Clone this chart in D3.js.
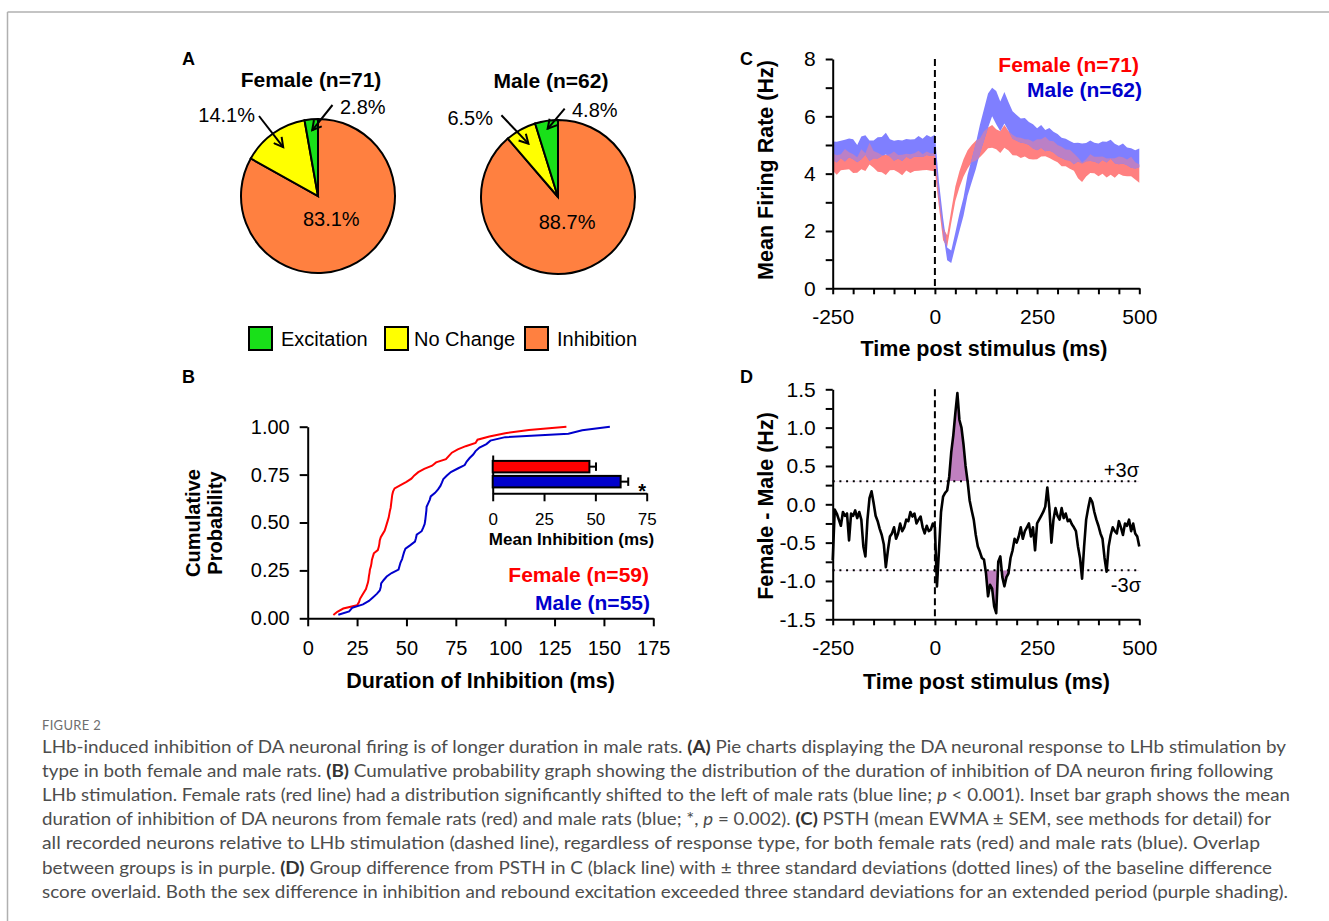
<!DOCTYPE html>
<html>
<head>
<meta charset="utf-8">
<script src="https://cdn.jsdelivr.net/npm/d3@7"></script>
<style>
  body { margin: 0; background: #fff; }
  svg { display: block; }
</style>
</head>
<body>
<div id="fig"></div>
<script>
// ---------- data ----------
// A: response type percentages (order: Excitation, No Change, Inhibition)
const pieCategories = ["Excitation", "No Change", "Inhibition"];
const femalePie = [2.8, 14.1, 83.1];
const malePie = [4.8, 6.5, 88.7];

// B: durations of inhibition (ms), sorted
const femaleDur = [13, 15, 18, 25, 26, 26.5, 27.5, 28.5, 29.5, 30,
  30.5, 30.8, 31, 31.3, 31.5, 32, 32.3, 32.5, 33, 33.5,
  35.5, 36, 36.3, 36.5, 37, 38, 39, 39.5, 40, 40.5,
  41, 41.3, 41.6, 42, 42.2, 42.4, 42.6, 42.8, 43.2, 44,
  47, 50, 52.5, 54, 56, 59, 63, 65, 70, 71.5,
  73, 76, 80, 85, 86, 92, 100, 112, 131];
const maleDur = [15.5, 21, 22.5, 28, 31, 33, 35, 36.5, 37, 37.2,
  38.5, 40, 42.5, 46, 46.5, 47, 47.8, 48.3, 48.8, 49.5,
  52, 54.3, 54.8, 55.2, 57.7, 58.5, 59.2, 59.5, 59.7, 59.9,
  60.1, 60.2, 61, 61.8, 62.3, 64.5, 66, 67.2, 68, 68.7,
  70.5, 72.5, 76, 79.5, 80.5, 82, 83.8, 85, 87, 90.5,
  92.5, 100, 132, 139, 153];

// B inset: mean inhibition (ms)
const barGroups = ["Female", "Male"];
const barMeans = [47.1, 62.3];
const barSems = [3.2, 3.7];

// C: PSTH mean and SEM (Hz), -250..500 ms every 10 ms
const psthStart = -250, psthStep = 10;
const femaleMean = [4.4, 4.3, 4.4, 4.5, 4.45, 4.35, 4.3, 4.5, 4.4, 4.7,
  4.5, 4.4, 4.35, 4.3, 4.4, 4.45, 4.35, 4.3, 4.4, 4.35,
  4.4, 4.45, 4.4, 4.45, 4.4, 4.4, 3.1, 1.9, 1.65, 2.5,
  3.3, 3.8, 4.2, 4.5, 4.7, 4.8, 4.9, 5.1, 5.25, 5.3,
  5.2, 5.1, 5.3, 5.15, 5.0, 4.95, 4.9, 4.9, 4.85, 4.8,
  4.85, 4.9, 4.95, 4.85, 4.8, 4.7, 4.6, 4.55, 4.5, 4.4,
  4.2, 4.05, 4.2, 4.35, 4.3, 4.25, 4.3, 4.2, 4.25, 4.2,
  4.3, 4.25, 4.2, 4.25, 4.1, 4.0];
const femaleSem = [0.30, 0.34, 0.28, 0.36, 0.30, 0.33, 0.27, 0.35, 0.31, 0.38,
  0.29, 0.33, 0.30, 0.35, 0.28, 0.32, 0.30, 0.36, 0.29, 0.33,
  0.31, 0.35, 0.28, 0.32, 0.30, 0.32,
  0.28, 0.22, 0.2, 0.22, 0.25, 0.28, 0.3, 0.32, 0.3, 0.35,
  0.33, 0.38, 0.36, 0.4, 0.35, 0.38, 0.4, 0.34, 0.36, 0.32,
  0.35, 0.3, 0.34, 0.31, 0.35, 0.3, 0.34, 0.3, 0.33, 0.3,
  0.34, 0.29, 0.33, 0.3, 0.36, 0.34, 0.3, 0.33, 0.29, 0.34,
  0.3, 0.33, 0.29, 0.34, 0.3, 0.32, 0.29, 0.34, 0.3, 0.32];
const maleMean = [4.8, 4.75, 4.85, 4.8, 4.9, 4.85, 4.7, 4.9, 5.0, 4.8,
  4.85, 4.9, 4.95, 5.05, 4.9, 4.8, 4.85, 4.8, 4.9, 4.85,
  4.9, 4.95, 4.9, 5.0, 4.95, 5.0, 3.4, 2.2, 1.2, 1.1,
  1.7, 2.3, 2.85, 3.6, 4.1, 4.6, 5.2, 5.7, 6.2, 6.5,
  6.3, 6.0, 6.3, 6.0, 5.7, 5.6, 5.5, 5.5, 5.4, 5.3,
  5.2, 5.3, 5.15, 5.2, 5.1, 5.0, 4.9, 4.85, 4.8, 4.7,
  4.75, 4.7, 4.75, 4.8, 4.75, 4.7, 4.8, 4.75, 4.85, 4.7,
  4.65, 4.7, 4.6, 4.55, 4.5, 4.55];
const maleSem = [0.32, 0.36, 0.3, 0.38, 0.33, 0.35, 0.3, 0.4, 0.34, 0.36,
  0.31, 0.37, 0.33, 0.38, 0.3, 0.35, 0.32, 0.36, 0.31, 0.34,
  0.3, 0.36, 0.32, 0.35, 0.33, 0.36,
  0.3, 0.25, 0.22, 0.22, 0.25, 0.3, 0.32, 0.36, 0.4, 0.45,
  0.5, 0.55, 0.6, 0.5, 0.58, 0.52, 0.55, 0.5, 0.48, 0.45,
  0.42, 0.44, 0.4, 0.42, 0.38, 0.4, 0.37, 0.39, 0.36, 0.38,
  0.35, 0.37, 0.34, 0.37, 0.33, 0.35, 0.32, 0.36, 0.33, 0.35,
  0.32, 0.36, 0.33, 0.34, 0.32, 0.35, 0.31, 0.34, 0.32, 0.33];

// D: female - male difference (Hz), -250..500 ms every 5 ms
const diffStart = -250, diffStep = 5;
const diffValues = [-0.73, -0.07, -0.12, -0.2, -0.28, -0.1, -0.15, -0.12, -0.47, -0.12,
  -0.15, -0.08, -0.18, -0.1, -0.2, -0.55, -0.68, -0.2, 0.08, 0.17,
  0.02, -0.15, -0.22, -0.32, -0.4, -0.52, -0.82, -0.6, -0.42, -0.38,
  -0.3, -0.45, -0.38, -0.25, -0.35, -0.3, -0.2, -0.22, -0.1, -0.16,
  -0.12, -0.25, -0.2, -0.16, -0.3, -0.38, -0.28, -0.35, -0.33, -0.25,
  -0.3, -1.07, -0.6, -0.1, 0.1, 0.15, 0.18, 0.36, 0.68, 0.9,
  1.19, 1.45, 1.1, 1.0, 0.78, 0.5, 0.3, 0.05, -0.08, -0.2,
  -0.4, -0.55, -0.62, -0.7, -0.72, -0.9, -1.2, -1.05, -1.1, -1.33,
  -1.42, -0.75, -0.68, -0.95, -1.07, -0.95, -0.9, -0.7, -0.6, -0.45,
  -0.5, -0.42, -0.3, -0.45, -0.35, -0.3, -0.25, -0.42, -0.3, -0.6,
  -0.25, -0.2, -0.15, -0.1, -0.03, 0.22, -0.05, -0.5, -0.2, -0.05,
  -0.15, -0.2, -0.05, -0.18, -0.12, -0.22, -0.2, -0.26, -0.3, -0.35,
  -0.55, -0.7, -0.97, -0.55, -0.2, -0.05, 0.08, 0.03, -0.1, -0.2,
  -0.28, -0.38, -0.45, -0.7, -0.88, -0.55, -0.4, -0.3, -0.35, -0.38,
  -0.22, -0.3, -0.4, -0.25, -0.28, -0.2, -0.35, -0.25, -0.38, -0.42,
  -0.55];
const sigmaUpper = 0.3;
const sigmaLower = -0.86;

// caption
const captionLines = [
  [["LHb-induced inhibition of DA neuronal firing is of longer duration in male rats. "], ["(A)", "b"], [" Pie charts displaying the DA neuronal response to LHb stimulation by"]],
  [["type in both female and male rats. "], ["(B)", "b"], [" Cumulative probability graph showing the distribution of the duration of inhibition of DA neuron firing following"]],
  [["LHb stimulation. Female rats (red line) had a distribution significantly shifted to the left of male rats (blue line; "], ["p", "i"], [" < 0.001). Inset bar graph shows the mean"]],
  [["duration of inhibition of DA neurons from female rats (red) and male rats (blue; *, "], ["p", "i"], [" = 0.002). "], ["(C)", "b"], [" PSTH (mean EWMA \u00b1 SEM, see methods for detail) for"]],
  [["all recorded neurons relative to LHb stimulation (dashed line), regardless of response type, for both female rats (red) and male rats (blue). Overlap"]],
  [["between groups is in purple. "], ["(D)", "b"], [" Group difference from PSTH in C (black line) with \u00b1 three standard deviations (dotted lines) of the baseline difference"]],
  [["score overlaid. Both the sex difference in inhibition and rebound excitation exceeded three standard deviations for an extended period (purple shading)."]]
];
const captionEnds = [1286, 1273, 1290, 1271, 1260, 1272, 1288];

// ---------- setup ----------
const FONT = "'Liberation Sans', Arial, sans-serif";
const RED = "#ff0000", BLUE = "#0000cc";
const pieColors = { "Excitation": "#19e019", "No Change": "#ffff00", "Inhibition": "#ff8040" };

const svg = d3.select("#fig").append("svg")
  .attr("width", 1329).attr("height", 921)
  .attr("font-family", FONT);
const defs = svg.append("defs");

// frame lines
svg.append("line").attr("x1", 7.5).attr("x2", 1329).attr("y1", 12).attr("y2", 12)
  .attr("stroke", "#b0b0b0").attr("stroke-width", 1.5);
svg.append("line").attr("x1", 7.5).attr("x2", 7.5).attr("y1", 12).attr("y2", 921)
  .attr("stroke", "#b0b0b0").attr("stroke-width", 1.5);

function styleAxis(g, size) {
  g.select(".domain").attr("stroke-width", 2);
  g.selectAll(".tick line").attr("stroke-width", 2);
  g.selectAll(".tick text").attr("font-size", size || 20).attr("font-family", FONT).attr("fill", "#000");
}

function panelLetter(t, x, y) {
  svg.append("text").attr("x", x).attr("y", y).text(t)
    .attr("font-weight", "bold").attr("font-size", 18);
}

function boldText(t, x, y, opts = {}) {
  return svg.append("text").attr("x", x).attr("y", y).text(t)
    .attr("font-weight", "bold").attr("font-size", opts.size || 21)
    .attr("text-anchor", opts.anchor || "middle")
    .attr("fill", opts.fill || "#000");
}

function rotTitle(t, x, y, size) {
  svg.append("text").attr("transform", `translate(${x},${y}) rotate(-90)`)
    .attr("text-anchor", "middle").attr("font-weight", "bold").attr("font-size", size || 21).text(t);
}

// ---------- Panel A ----------
panelLetter("A", 182, 65);

defs.append("marker").attr("id", "arrowhead")
  .attr("viewBox", "0 0 12 12").attr("refX", 10).attr("refY", 6)
  .attr("markerWidth", 12).attr("markerHeight", 12)
  .attr("markerUnits", "userSpaceOnUse").attr("orient", "auto")
  .append("path").attr("d", "M1,1 L10,6 L1,11")
  .attr("fill", "none").attr("stroke", "#000").attr("stroke-width", 2);

const pieR = 77;
const pies = [
  { title: "Female (n=71)", values: femalePie, cx: 318, cy: 196,
    notes: [
      { idx: 0, anchor: "start", lx: 22, ly: -82, ax: 14.5, ay: -91, tipR: 66 },
      { idx: 1, anchor: "end", lx: -63, ly: -74, ax: -59, ay: -80, tipR: 60 }
    ] },
  { title: "Male (n=62)", values: malePie, cx: 558, cy: 197,
    notes: [
      { idx: 0, anchor: "start", lx: 14, ly: -80, ax: 6.7, ay: -88.4, tipR: 69 },
      { idx: 1, anchor: "end", lx: -65, ly: -72, ax: -56.6, ay: -81.7, tipR: 61 }
    ] }
];

const pieGen = d3.pie().sort(null).value(d => d.value);
const arcGen = d3.arc().innerRadius(0).outerRadius(pieR);

pies.forEach(p => {
  // inhibition first so it runs clockwise from 12 o'clock; excitation ends at 12
  const items = pieCategories.map((c, i) => ({ cat: c, value: p.values[i], idx: i })).reverse();
  const arcs = pieGen(items);
  const g = svg.append("g").attr("transform", `translate(${p.cx},${p.cy})`);
  g.selectAll("path").data(arcs).enter().append("path")
    .attr("d", arcGen)
    .attr("fill", d => pieColors[d.data.cat])
    .attr("stroke", "#000").attr("stroke-width", 2);

  boldText(p.title, p.cx - 7, p.cy - 109, { size: 21 });

  // big inside label
  const inh = arcs.find(a => a.data.cat === "Inhibition");
  const c = d3.arc().innerRadius(0).outerRadius(pieR * 0.68).centroid(inh);
  g.append("text").attr("x", c[0]).attr("y", c[1] + 7)
    .attr("text-anchor", "middle").attr("font-size", 20)
    .text(inh.data.value.toFixed(1) + "%");

  p.notes.forEach(n => {
    const a = arcs.find(s => s.data.idx === n.idx);
    const tip = d3.arc().innerRadius(n.tipR).outerRadius(n.tipR).centroid(a);
    g.append("line")
      .attr("x1", n.ax).attr("y1", n.ay).attr("x2", tip[0]).attr("y2", tip[1])
      .attr("stroke", "#000").attr("stroke-width", 2)
      .attr("marker-end", "url(#arrowhead)");
    g.append("text").attr("x", n.lx).attr("y", n.ly)
      .attr("text-anchor", n.anchor).attr("font-size", 20)
      .text(a.data.value.toFixed(1) + "%");
  });
});

// legend A
const legendX = [249, 385, 525];
pieCategories.forEach((c, i) => {
  svg.append("rect").attr("x", legendX[i]).attr("y", 327).attr("width", 23).attr("height", 23)
    .attr("fill", pieColors[c]).attr("stroke", "#000").attr("stroke-width", 2);
  svg.append("text").attr("x", legendX[i] + (i === 1 ? 29 : 32)).attr("y", 346)
    .attr("font-size", 20).text(c);
});

// ---------- Panel B ----------
panelLetter("B", 182, 383);

const xB = d3.scaleLinear().domain([0, 175]).range([307.7, 653.3]);
const yB = d3.scaleLinear().domain([0, 1]).range([618.3, 426.7]);

svg.append("g").attr("transform", `translate(0,${yB(0)})`)
  .call(d3.axisBottom(xB).tickValues(d3.range(0, 176, 25)).tickSize(8).tickSizeOuter(0).tickPadding(15))
  .call(g => styleAxis(g));
svg.append("g").attr("transform", `translate(${xB(0)},0)`)
  .call(d3.axisLeft(yB).tickValues([0, 0.25, 0.5, 0.75, 1]).tickFormat(d3.format(".2f"))
    .tickSize(8).tickSizeOuter(0).tickPadding(10))
  .call(g => styleAxis(g));

const cdfLine = d3.line().x(d => xB(d[0])).y(d => yB(d[1]));
[[femaleDur, RED], [maleDur, BLUE]].forEach(([arr, col]) => {
  const pts = arr.map((v, i) => [v, (i + 1) / arr.length]);
  svg.append("path").attr("d", cdfLine(pts))
    .attr("fill", "none").attr("stroke", col).attr("stroke-width", 2);
});

boldText("Duration of Inhibition (ms)", 480.5, 688, { size: 21.5 });
svg.append("text").attr("transform", "translate(200,523) rotate(-90)")
  .attr("text-anchor", "middle").attr("font-weight", "bold").attr("font-size", 20).text("Cumulative");
svg.append("text").attr("transform", "translate(222,523) rotate(-90)")
  .attr("text-anchor", "middle").attr("font-weight", "bold").attr("font-size", 20).text("Probability");

boldText("Female (n=59)", 649, 582, { anchor: "end", fill: RED });
boldText("Male (n=55)", 650, 610, { anchor: "end", fill: BLUE });

// inset bars
const xIn = d3.scaleLinear().domain([0, 75]).range([492.7, 646.7]);
const yIn = d3.scaleBand().domain(barGroups).range([455, 493.3]).paddingInner(0.233).paddingOuter(0.393);
svg.append("g").attr("transform", `translate(0,${yIn.range()[1]})`)
  .call(d3.axisBottom(xIn).tickValues([0, 25, 50, 75]).tickSize(8).tickSizeOuter(0).tickPadding(12))
  .call(g => styleAxis(g, 17));
svg.append("g").attr("transform", `translate(${xIn(0)},0)`)
  .call(d3.axisLeft(yIn).tickSize(0).tickFormat(""))
  .call(g => styleAxis(g));
barGroups.forEach((grp, i) => {
  const y0 = yIn(grp), bw = yIn.bandwidth();
  svg.append("line").attr("x1", xIn(barMeans[i])).attr("x2", xIn(barMeans[i] + barSems[i]))
    .attr("y1", y0 + bw / 2).attr("y2", y0 + bw / 2).attr("stroke", "#000").attr("stroke-width", 2);
  svg.append("line").attr("x1", xIn(barMeans[i] + barSems[i])).attr("x2", xIn(barMeans[i] + barSems[i]))
    .attr("y1", y0 + 1.5).attr("y2", y0 + bw - 1.5).attr("stroke", "#000").attr("stroke-width", 2);
  svg.append("rect").attr("x", xIn(0)).attr("y", y0)
    .attr("width", xIn(barMeans[i]) - xIn(0)).attr("height", bw)
    .attr("fill", i === 0 ? RED : BLUE).attr("stroke", "#000").attr("stroke-width", 2);
});
boldText("*", xIn(barMeans[1] + barSems[1]) + 14, yIn("Male") + 22, { size: 20 });
boldText("Mean Inhibition (ms)", 571.5, 545, { size: 17 });

// ---------- Panel C ----------
panelLetter("C", 740, 65);

const xC = d3.scaleLinear().domain([-250, 500]).range([832.7, 1139.3]);
const yC = d3.scaleLinear().domain([0, 8]).range([288.3, 59]);

const bandArea = (mean, sem) => d3.area()
  .x((d, i) => xC(psthStart + i * psthStep))
  .y0((d, i) => yC(mean[i] - sem[i]))
  .y1((d, i) => yC(mean[i] + sem[i]))(mean);

const fArea = bandArea(femaleMean, femaleSem);
const mArea = bandArea(maleMean, maleSem);
defs.append("clipPath").attr("id", "femaleClip").append("path").attr("d", fArea);
svg.append("path").attr("d", fArea).attr("fill", "#ff8080");
svg.append("path").attr("d", mArea).attr("fill", "#7f7fff");
svg.append("path").attr("d", mArea).attr("fill", "#bb80c6").attr("clip-path", "url(#femaleClip)");

svg.append("line").attr("x1", xC(0)).attr("x2", xC(0)).attr("y1", yC(8)).attr("y2", yC(0))
  .attr("stroke", "#000").attr("stroke-width", 2).attr("stroke-dasharray", "7,4");

svg.append("g").attr("transform", `translate(0,${yC(0)})`)
  .call(d3.axisBottom(xC).tickValues(d3.range(-250, 501, 50))
    .tickFormat(d => d % 250 === 0 ? String(d) : "")
    .tickSize(6).tickSizeOuter(0).tickPadding(15))
  .call(g => styleAxis(g, 21));
svg.append("g").attr("transform", `translate(${xC(-250)},0)`)
  .call(d3.axisLeft(yC).tickValues(d3.range(0, 9, 1))
    .tickFormat(d => d % 2 === 0 ? String(d) : "")
    .tickSize(7).tickSizeOuter(0).tickPadding(10))
  .call(g => styleAxis(g, 21));

boldText("Time post stimulus (ms)", 984, 356, { size: 21.5 });
rotTitle("Mean Firing Rate (Hz)", 773, 170, 21.5);
boldText("Female (n=71)", 1139, 72, { anchor: "end", fill: RED });
boldText("Male (n=62)", 1142, 97, { anchor: "end", fill: BLUE });

// ---------- Panel D ----------
panelLetter("D", 740, 383);

const xD = d3.scaleLinear().domain([-250, 500]).range([832.7, 1139.3]);
const yD = d3.scaleLinear().domain([-1.5, 1.5]).range([619.3, 389.3]);
const diffPts = diffValues.map((v, i) => [diffStart + i * diffStep, v]);

defs.append("clipPath").attr("id", "aboveClip").append("rect")
  .attr("x", xD(-250)).attr("width", xD(500) - xD(-250))
  .attr("y", yD(1.5) - 20).attr("height", yD(sigmaUpper) - yD(1.5) + 20);
defs.append("clipPath").attr("id", "belowClip").append("rect")
  .attr("x", xD(-250)).attr("width", xD(500) - xD(-250))
  .attr("y", yD(sigmaLower)).attr("height", yD(-1.5) - yD(sigmaLower) + 20);

[[sigmaUpper, "aboveClip"], [sigmaLower, "belowClip"]].forEach(([thr, clip]) => {
  svg.append("path")
    .attr("d", d3.area().x(d => xD(d[0])).y0(yD(thr)).y1(d => yD(d[1]))(diffPts))
    .attr("fill", "#c080c0").attr("clip-path", `url(#${clip})`);
});

[sigmaUpper, sigmaLower].forEach(thr => {
  svg.append("line").attr("x1", xD(-250)).attr("x2", xD(500)).attr("y1", yD(thr)).attr("y2", yD(thr))
    .attr("stroke", "#000").attr("stroke-width", 2).attr("stroke-dasharray", "2,4.7");
});

svg.append("line").attr("x1", xD(0)).attr("x2", xD(0)).attr("y1", yD(1.5)).attr("y2", yD(-1.5))
  .attr("stroke", "#000").attr("stroke-width", 2).attr("stroke-dasharray", "7,4");

svg.append("path").attr("d", d3.line().x(d => xD(d[0])).y(d => yD(d[1]))(diffPts))
  .attr("fill", "none").attr("stroke", "#000").attr("stroke-width", 2.6).attr("stroke-linejoin", "round");

svg.append("g").attr("transform", `translate(0,${yD(-1.5)})`)
  .call(d3.axisBottom(xD).tickValues(d3.range(-250, 501, 50))
    .tickFormat(d => d % 250 === 0 ? String(d) : "")
    .tickSize(6).tickSizeOuter(0).tickPadding(15))
  .call(g => styleAxis(g, 21));
svg.append("g").attr("transform", `translate(${xD(-250)},0)`)
  .call(d3.axisLeft(yD).tickValues(d3.range(-1.5, 1.51, 0.25))
    .tickFormat(d => Math.abs((d * 2) % 1) < 1e-6 ? (d < -1e-9 ? "-" : "") + Math.abs(d).toFixed(1) : "")
    .tickSize(7).tickSizeOuter(0).tickPadding(10))
  .call(g => styleAxis(g, 21));

svg.append("text").attr("x", 1139).attr("y", 477).attr("text-anchor", "end").attr("font-size", 20).text("+3\u03c3");
svg.append("text").attr("x", 1141).attr("y", 592).attr("text-anchor", "end").attr("font-size", 20).text("-3\u03c3");

boldText("Time post stimulus (ms)", 986.5, 689, { size: 21.5 });
rotTitle("Female - Male (Hz)", 773, 506, 21.5);

// ---------- caption ----------
svg.append("text").attr("x", 42).attr("y", 730)
  .attr("font-family", "Lato, 'Open Sans', sans-serif").attr("font-size", 13)
  .attr("fill", "#6e6e6e").attr("letter-spacing", 0.3).text("FIGURE 2");

captionLines.forEach((segs, i) => {
  const t = svg.append("text").attr("x", 42).attr("y", 753 + i * 24.1)
    .attr("font-family", "Lato, 'Open Sans', sans-serif").attr("font-size", 16.5)
    .attr("fill", "#4d4d4d").style("white-space", "pre")
    .attr("textLength", captionEnds[i] - 42).attr("lengthAdjust", "spacingAndGlyphs");
  segs.forEach(([s, st]) => {
    const ts = t.append("tspan").text(s);
    if (st === "b") ts.attr("font-weight", "bold").attr("fill", "#333");
    if (st === "i") ts.attr("font-style", "italic");
  });
});
</script>
</body>
</html>
